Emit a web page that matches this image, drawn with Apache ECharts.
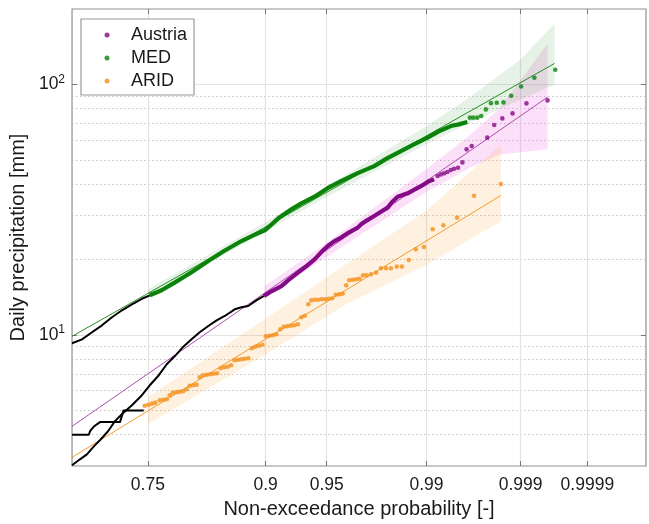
<!DOCTYPE html>
<html>
<head>
<meta charset="utf-8">
<script src="https://cdn.jsdelivr.net/npm/echarts@6/dist/echarts.min.js"></script>
<style>
  html, body { margin: 0; padding: 0; background: #fff; }
  #main { width: 649px; height: 524px; }
</style>
</head>
<body>
<div id="main"></div>
<script>
// x is the Weibull reduced variate u = ln(-ln(1-p)) of the non-exceedance probability p
// y values in mm (drawn on a log10 axis)
const probTicks = [0.75, 0.9, 0.95, 0.99, 0.999, 0.9999]
const probLabels = ['0.75', '0.9', '0.95', '0.99', '0.999', '0.9999']
const yMajor = [10, 100]
const yMinor = [4, 5, 6, 7, 8, 9, 20, 30, 40, 50, 60, 70, 80, 90]
const uMax = 2.473
const yMin = 3
const yMax = 200

// MED
const medLow = [[0, 9.27], [0.043, 9.61], [0.086, 10.25], [0.129, 10.93], [0.172, 11.77], [0.215, 12.55], [0.258, 13.26], [0.301, 13.95], [0.335, 14.40]]
const medDense = [[0.335, 14.40], [0.386, 15.08], [0.442, 16.18], [0.515, 17.79], [0.587, 19.74], [0.653, 21.58], [0.730, 23.71], [0.781, 24.99], [0.833, 26.23], [0.889, 29.21], [0.945, 31.73], [0.988, 33.53], [1.045, 35.65], [1.099, 38.47], [1.159, 41.15], [1.228, 44.16], [1.302, 47.22], [1.357, 50.68], [1.417, 54.19], [1.473, 57.64], [1.532, 61.31], [1.580, 64.96], [1.632, 68.21], [1.666, 69.27], [1.703, 70.75]]
const medTail = [[1.714, 73.68], [1.729, 73.68], [1.746, 73.68], [1.763, 74.77], [1.783, 79.48], [1.805, 84.21], [1.830, 84.53], [1.859, 84.76], [1.892, 90.15], [1.935, 98.17], [1.992, 106.3], [2.082, 114.4]]
const medFit = [[0, 9.88], [2.079, 121.3]]
const medBandU = [0.326, 0.833, 1.095, 1.524, 1.718, 1.932, 2.079]
const medBandHi = [15.22, 28.15, 39.01, 68.0, 89.58, 125.8, 175.1]
const medBandLo = [14.07, 25.92, 35.42, 57.64, 70.53, 87.15, 100.0]

// Austria
const autLow = [[0, 3.02], [0.034, 3.19], [0.064, 3.34], [0.095, 3.60], [0.120, 3.80], [0.155, 4.13], [0.185, 4.53], [0.219, 4.87], [0.258, 5.24], [0.301, 5.75], [0.335, 6.30], [0.374, 6.91], [0.408, 7.64], [0.442, 8.22], [0.477, 8.93], [0.515, 9.61], [0.550, 10.25], [0.587, 10.86], [0.623, 11.44], [0.658, 11.91], [0.701, 12.66], [0.730, 12.90], [0.759, 13.05], [0.794, 13.75], [0.827, 14.31]]
const autDense = [[0.827, 14.31], [0.859, 14.94], [0.902, 15.68], [0.936, 16.68], [0.973, 17.74], [1.009, 18.79], [1.045, 20.04], [1.073, 21.38], [1.102, 22.65], [1.129, 23.65], [1.159, 24.47], [1.194, 25.69], [1.231, 26.82], [1.245, 27.64], [1.271, 28.68], [1.302, 29.84], [1.331, 31.01], [1.360, 32.23], [1.378, 33.84], [1.403, 35.65], [1.421, 36.08], [1.446, 36.75], [1.481, 38.30], [1.517, 39.92], [1.537, 41.04], [1.560, 41.80]]
const autTail = [[1.575, 43.09], [1.589, 43.75], [1.603, 44.16], [1.617, 44.69], [1.632, 45.51], [1.646, 46.10], [1.663, 46.53], [1.682, 48.85], [1.700, 55.06], [1.722, 56.76], [1.789, 61.31], [1.819, 68.84], [1.854, 73.19], [1.898, 76.63], [1.958, 83.99], [2.049, 86.35]]
const autFit = [[0, 4.32], [2.049, 88.99]]
const autBandU = [0.829, 1.095, 1.524, 1.718, 1.846, 2.049]
const autBandHi = [15.64, 23.22, 45.81, 63.18, 80.95, 145.7]
const autBandLo = [14.01, 20.41, 37.09, 46.67, 52.57, 55.06]

// ARID
const aridLow = [[0, 4.0], [0.072, 4.0], [0.079, 4.15], [0.093, 4.3], [0.107, 4.4], [0.122, 4.5], [0.207, 4.5], [0.222, 5.0], [0.309, 5.0]]
const aridDots = [[0.313, 5.22], [0.329, 5.27], [0.344, 5.32], [0.359, 5.37], [0.378, 5.49], [0.393, 5.51], [0.408, 5.54], [0.421, 5.75], [0.434, 5.88], [0.449, 5.91], [0.464, 5.93], [0.479, 5.96], [0.494, 6.07], [0.507, 6.27], [0.522, 6.30], [0.537, 6.33], [0.550, 6.78], [0.565, 6.91], [0.580, 6.94], [0.595, 6.97], [0.610, 7.00], [0.625, 7.04], [0.640, 7.37], [0.655, 7.43], [0.670, 7.47], [0.685, 7.57], [0.700, 7.93], [0.715, 7.96], [0.730, 8.00], [0.745, 8.04], [0.760, 8.07], [0.775, 8.85], [0.790, 8.97], [0.805, 9.06], [0.820, 9.14], [0.835, 9.88], [0.850, 9.93], [0.865, 9.97], [0.880, 10.06], [0.897, 10.54], [0.912, 10.78], [0.927, 10.83], [0.943, 10.88], [0.958, 10.93], [0.973, 11.03], [0.988, 11.77], [1.003, 11.93], [1.018, 13.26], [1.031, 13.75], [1.046, 13.82], [1.061, 13.82], [1.076, 13.88], [1.091, 13.88], [1.106, 13.95], [1.121, 14.01], [1.136, 14.47], [1.151, 14.53], [1.166, 14.60], [1.181, 15.78], [1.194, 16.53], [1.209, 16.61], [1.224, 16.68], [1.239, 16.76], [1.254, 17.31], [1.269, 17.31], [1.288, 17.47], [1.310, 17.74], [1.331, 18.46], [1.353, 18.46], [1.374, 18.46], [1.399, 18.75], [1.421, 18.75], [1.451, 19.91], [1.481, 21.97], [1.516, 22.44], [1.554, 26.41], [1.600, 27.40], [1.659, 29.39], [1.732, 35.97], [1.848, 40.03]]
const aridFit = [[0, 3.25], [1.848, 36.07]]
const aridBandU = [0.326, 0.829, 1.181, 1.524, 1.848]
const aridBandHi = [5.64, 11.55, 19.14, 31.15, 57.64]
const aridBandLo = [4.40, 8.30, 13.26, 18.97, 28.41]

const colAut = '#850a85'
const colMed = '#0b830b'
const colArid = '#f4901a'
const fontFam = 'Liberation Sans, Arial, sans-serif'

const toU = p => Math.log(-Math.log(1 - p))
const tickU = probTicks.map(toU)
const lg = pts => pts.map(d => [d[0], Math.log10(d[1])])

function bandSeries (u, hi, lo, fill) {
  return {
    type: 'custom',
    silent: true,
    z: 1,
    data: [[u[0], Math.log10(hi[0])]],
    encode: { x: 0, y: 1 },
    renderItem: function (params, api) {
      const pts = []
      for (let i = 0; i < u.length; i++) pts.push(api.coord([u[i], Math.log10(hi[i])]))
      for (let j = u.length - 1; j >= 0; j--) pts.push(api.coord([u[j], Math.log10(lo[j])]))
      return { type: 'polygon', shape: { points: pts }, style: { fill: fill } }
    }
  }
}
function lineSeries (name, data, color, width, z) {
  return {
    name: name, type: 'line', data: lg(data), showSymbol: false, silent: true, z: z,
    lineStyle: { color: color, width: width, join: 'round' }, itemStyle: { color: color }
  }
}
function dotSeries (name, data, color) {
  return {
    name: name, type: 'scatter', data: lg(data), symbolSize: 4.6, z: 6, silent: true,
    itemStyle: { color: color }
  }
}

const myChart = echarts.init(document.getElementById('main'))
const option = {
  animation: false,
  backgroundColor: '#fff',
  textStyle: { fontFamily: fontFam },
  grid: { left: 70, right: 3, top: 9, bottom: 57, show: true, borderColor: '#8f8f8f', borderWidth: 1.2 },
  legend: {
    data: ['Austria', 'MED', 'ARID'],
    orient: 'vertical', left: 81, top: 19,
    icon: 'circle', itemWidth: 5, itemHeight: 5, itemGap: 5,
    padding: [7, 7, 5, 23.5],
    backgroundColor: '#fff', borderColor: '#9a9a9a', borderWidth: 1.2,
    textStyle: { fontSize: 18, color: '#1a1a1a', lineHeight: 18, fontFamily: fontFam, padding: [0, 0, 0, 16.5] }
  },
  xAxis: [{
    type: 'value', min: 0, max: uMax,
    name: 'Non-exceedance probability [-]', nameLocation: 'middle', nameGap: 33,
    nameTextStyle: { fontSize: 20, color: '#1a1a1a', fontFamily: fontFam },
    axisLine: { show: false },
    axisTick: { show: true, inside: true, length: 5, customValues: tickU, lineStyle: { color: '#777' } },
    axisLabel: {
      customValues: tickU, margin: 10, fontSize: 17.5, color: '#1a1a1a', fontFamily: fontFam,
      formatter: v => { const i = tickU.findIndex(t => Math.abs(t - v) < 1e-6); return i < 0 ? '' : probLabels[i] }
    },
    splitLine: { show: true, lineStyle: { color: '#e3e3e3', width: 1.2 } }
  }, {
    type: 'value', min: 0, max: uMax, position: 'top',
    axisLine: { show: false }, axisLabel: { show: false }, splitLine: { show: false },
    axisTick: { show: true, inside: true, length: 5, customValues: tickU, lineStyle: { color: '#777' } }
  }],
  yAxis: [{
    type: 'value', min: Math.log10(yMin), max: Math.log10(yMax),
    name: 'Daily precipitation [mm]', nameLocation: 'middle', nameGap: 41,
    nameTextStyle: { fontSize: 20, color: '#1a1a1a', fontFamily: fontFam },
    axisLine: { show: false },
    axisTick: { show: true, inside: true, length: 5, customValues: yMajor.map(Math.log10), lineStyle: { color: '#777' } },
    axisLabel: {
      customValues: yMajor.map(Math.log10), margin: 7,
      formatter: v => '{b|10}{s|' + Math.round(v) + '}',
      rich: {
        b: { fontSize: 17.5, color: '#1a1a1a', fontFamily: fontFam, lineHeight: 18, verticalAlign: 'bottom' },
        s: { fontSize: 12, color: '#1a1a1a', fontFamily: fontFam, lineHeight: 12, padding: [0, 0, 10, 0] }
      }
    },
    splitLine: { show: true, lineStyle: { color: '#e3e3e3', width: 1.2 } }
  }, {
    type: 'value', min: Math.log10(yMin), max: Math.log10(yMax), position: 'left',
    axisLine: { show: false }, axisLabel: { show: false },
    axisTick: { show: false, customValues: yMinor.map(Math.log10) },
    splitLine: { show: true, lineStyle: { color: '#c4c4c4', width: 1, type: [1.5, 2.5] } }
  }, {
    type: 'value', min: Math.log10(yMin), max: Math.log10(yMax), position: 'right',
    axisLine: { show: false }, axisLabel: { show: false }, splitLine: { show: false },
    axisTick: { show: true, inside: true, length: 5, customValues: yMajor.map(Math.log10), lineStyle: { color: '#777' } }
  }],
  series: [
    bandSeries(autBandU, autBandHi, autBandLo, 'rgba(235, 60, 215, 0.16)'),
    bandSeries(medBandU, medBandHi, medBandLo, 'rgba(20, 140, 20, 0.11)'),
    bandSeries(aridBandU, aridBandHi, aridBandLo, 'rgba(255, 160, 40, 0.15)'),
    lineSeries('medFit', medFit, colMed, 0.9, 3),
    lineSeries('autFit', autFit, '#a43aa4', 0.9, 3),
    lineSeries('aridFit', aridFit, colArid, 0.9, 3),
    lineSeries('medLow', medLow, '#000', 2, 4),
    lineSeries('autLow', autLow, '#000', 2, 4),
    lineSeries('aridLow', aridLow, '#000', 2, 4),
    lineSeries('medDense', medDense, colMed, 4.2, 5),
    lineSeries('autDense', autDense, colAut, 4.2, 5),
    dotSeries('Austria', autTail, colAut),
    dotSeries('MED', medTail, colMed),
    dotSeries('ARID', aridDots, colArid)
  ]
}
myChart.setOption(option)
</script>
</body>
</html>
